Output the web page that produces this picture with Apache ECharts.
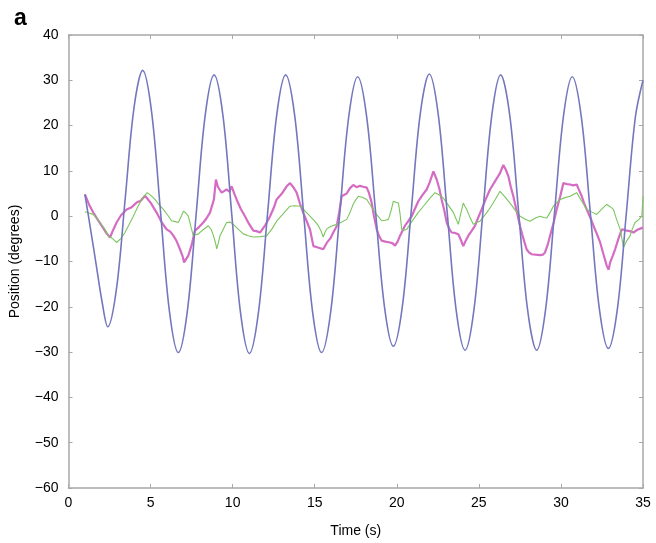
<!DOCTYPE html>
<html><head><meta charset="utf-8">
<script src="https://cdn.jsdelivr.net/npm/echarts@6/dist/echarts.min.js"></script>
<style>html,body{margin:0;padding:0;background:#fff}#c{width:656px;height:543px}</style>
</head><body><div id="c"></div>
<script>
var xTicks = [0, 5, 10, 15, 20, 25, 30, 35];
var yTicks = [-60, -50, -40, -30, -20, -10, 0, 10, 20, 30, 40];

var blueT = [1.0,1.35,1.7,2.05,2.39,2.92,3.455,3.99,4.52,5.06,5.605,6.15,6.69,7.235,7.78,8.325,8.87,9.41,9.945,10.48,11.02,11.57,12.125,12.68,13.23,13.78,14.325,14.87,15.42,15.97,16.52,17.07,17.62,18.16,18.705,19.25,19.79,20.34,20.885,21.43,21.98,22.525,23.07,23.615,24.16,24.70,25.245,25.79,26.33,26.88,27.425,27.97,28.52,29.06,29.605,30.15,30.69,31.24,31.79,32.34,32.89,33.44,33.985,34.53,35.0];
var blueV = [4.8,-3,-11,-19,-24.4,-16.1,3.9,23.9,32.2,23.1,1.05,-21.0,-30.1,-21.1,0.55,22.2,31.2,22.2,0.45,-21.3,-30.3,-21.3,0.45,22.2,31.2,22.2,0.55,-21.1,-30.1,-21.2,0.35,21.9,30.8,22.1,1.05,-20.0,-28.7,-19.9,1.35,22.6,31.4,22.5,0.9,-20.7,-29.6,-20.7,0.8,22.3,31.2,22.3,0.8,-20.7,-29.6,-20.75,0.6,21.95,30.8,22.0,0.8,-20.4,-29.2,-20.45,0.65,21.75,30.0];

var pinkT = [1.0,1.25,1.51,1.75,2.02,2.3,2.53,2.7,2.93,3.2,3.54,3.85,4.15,4.4,4.66,5.0,5.37,5.7,5.98,6.2,6.39,6.6,6.79,6.95,7.04,7.3,7.5,7.7,7.95,8.21,8.4,8.62,8.86,8.98,9.1,9.33,9.5,9.63,9.8,9.94,10.1,10.24,10.5,10.75,11.0,11.26,11.45,11.67,12.0,12.28,12.5,12.68,13.0,13.29,13.5,13.7,13.9,14.1,14.3,14.5,14.71,14.92,15.2,15.52,15.73,15.95,16.13,16.34,16.5,16.64,16.95,17.15,17.35,17.55,17.76,17.95,18.17,18.3,18.47,18.6,18.78,18.9,19.08,19.3,19.59,19.75,19.89,20.05,20.2,20.5,20.7,20.91,21.1,21.31,21.55,21.82,22.0,22.23,22.43,22.6,22.73,22.9,23.04,23.2,23.34,23.55,23.75,23.9,24.05,24.2,24.36,24.55,24.77,24.95,25.17,25.4,25.68,26.0,26.29,26.49,26.65,26.8,26.95,27.1,27.3,27.51,27.7,27.91,28.05,28.22,28.45,28.73,28.9,29.03,29.2,29.34,29.55,29.74,29.95,30.15,30.35,30.56,30.75,30.96,31.1,31.27,31.4,31.57,31.8,31.98,32.2,32.39,32.6,32.79,32.9,33.0,33.15,33.3,33.5,33.71,33.85,34.01,34.2,34.42,34.65,34.8,35.0];
var pinkV = [4.8,2.6,0.8,-0.6,-2.1,-3.7,-4.7,-3.2,-1.4,0.2,1.5,2.0,3.0,3.4,4.5,3.0,0.8,-1.5,-2.9,-3.4,-4.3,-5.6,-7.3,-8.8,-10.2,-8.7,-6.4,-3.2,-2.4,-1.4,-0.5,0.8,3.7,8.1,6.5,5.2,5.6,5.9,5.4,6.6,5.0,3.7,1.6,0,-1.7,-3.2,-3.3,-3.6,-1.9,0,1.8,3.7,5.0,6.6,7.3,6.4,5.2,2.8,0.8,-1.0,-2.9,-6.6,-6.9,-7.3,-5.9,-4.9,-3.6,-2.2,1.0,4.4,5.0,6.2,6.9,6.4,6.7,6.5,6.3,5.2,3.0,0.2,-2.9,-4.2,-5.4,-5.6,-5.8,-6.0,-6.5,-5.6,-4.3,-2.1,-1.1,0,1.6,3.3,4.6,5.9,7.4,9.9,8.1,6.0,3.7,1.2,-1.4,-2.8,-3.6,-3.7,-4.0,-5.2,-6.6,-5.4,-4.3,-3.3,-2.1,-0.4,1.5,3.6,5.9,7.8,9.5,11.3,10.2,8.8,6.4,4.4,1.2,-2.2,-4.8,-7.3,-8.0,-8.4,-8.5,-8.6,-8.5,-8.0,-6.2,-4.3,-1.5,1.5,4.3,7.3,7.1,7.0,6.8,7.0,5.8,4.4,3.0,1.5,-0.4,-2.1,-4.0,-5.8,-8.5,-10.9,-11.8,-10.2,-8.8,-7.3,-5.0,-2.9,-3.0,-3.2,-3.3,-3.6,-3.0,-2.8,-2.5];

var greenT = [1.0,1.25,1.51,1.7,1.92,2.2,2.43,2.7,2.93,3.2,3.44,3.7,3.95,4.2,4.46,4.65,4.8,5.05,5.27,5.5,5.78,6.05,6.28,6.5,6.69,6.85,7.0,7.15,7.3,7.45,7.6,7.75,7.91,8.2,8.52,8.7,8.83,8.95,9.03,9.13,9.23,9.45,9.63,9.85,10.04,10.35,10.65,10.95,11.26,11.7,12.08,12.4,12.68,13.1,13.49,13.8,14.1,14.4,14.71,15.0,15.22,15.4,15.52,15.62,15.73,16.0,16.34,16.65,16.95,17.15,17.35,17.5,17.66,17.9,18.17,18.4,18.67,18.9,19.08,19.3,19.49,19.65,19.79,19.95,20.1,20.2,20.3,20.45,20.61,20.8,21.01,21.3,21.62,22.0,22.33,22.6,22.84,23.15,23.45,23.6,23.75,23.9,24.05,24.15,24.26,24.45,24.66,24.85,25.07,25.4,25.68,26.0,26.29,26.6,26.9,27.2,27.51,27.8,28.12,28.45,28.73,28.95,29.14,29.35,29.54,29.75,29.95,30.25,30.56,30.75,30.96,31.25,31.57,31.9,32.18,32.5,32.79,33.0,33.2,33.4,33.61,33.72,33.81,34.0,34.22,34.35,34.52,34.75,34.93,35.0];
var greenV = [1.0,0.7,0.4,-0.3,-1.4,-2.8,-4.3,-5.0,-5.8,-4.9,-3.6,-1.8,0,1.9,3.7,4.6,5.2,4.5,3.7,2.6,1.5,0.2,-1.0,-1.2,-1.4,-0.2,1.1,0.7,0,-2.2,-4.3,-4.1,-3.9,-3.0,-2.1,-3.0,-4.3,-5.8,-7.2,-5.9,-4.3,-2.7,-1.4,-1.3,-1.8,-2.9,-3.9,-4.3,-4.6,-4.5,-4.3,-2.8,-1.1,0.6,2.2,2.3,2.2,1.2,0,-1.1,-2.1,-3.4,-4.6,-3.6,-2.8,-2.2,-1.8,-1.3,-0.7,0.8,2.7,3.6,4.4,4.2,3.7,2.4,0.8,-0.2,-1.0,-0.9,-0.7,1.2,3.3,3.1,2.9,0.5,-2.9,-3.1,-2.9,-1.8,-0.7,0.8,2.2,3.9,5.2,4.7,4.0,2.4,0.8,-0.5,-1.8,0.6,2.9,2.2,1.5,-0.2,-1.8,-1.4,-1.1,0.4,1.8,3.7,5.5,4.2,2.9,1.4,0,-0.6,-1.1,-0.4,0,-0.3,-0.4,0.9,2.2,3.0,3.7,4.1,4.4,4.8,5.2,3.4,1.5,0.9,0.4,1.6,2.6,2.1,1.5,-0.8,-2.9,-5.0,-6.9,-5.5,-4.3,-2.8,-1.4,-0.7,0,4.4];

function pairs(t, v) { var out = []; for (var i = 0; i < t.length; i++) out.push([t[i], v[i]]); return out; }
function minus(v) { return String(v).replace('-', '\u2212'); }

var axisColor = '#a8a8a8';
var font = 'Liberation Sans, Arial, Helvetica, sans-serif';

var chart = echarts.init(document.getElementById('c'), null, { renderer: 'canvas' });
chart.setOption({
  animation: false,
  backgroundColor: '#ffffff',
  title: { text: 'a', left: 9, top: 2, textStyle: { fontSize: 23, fontWeight: 'bold', color: '#000', fontFamily: font } },
  grid: { left: 68.5, right: 13, top: 35, bottom: 53 },
  xAxis: [{
    type: 'value', min: xTicks[0], max: xTicks[xTicks.length - 1], interval: 5, position: 'bottom',
    name: 'Time (s)', nameLocation: 'middle', nameGap: 36,
    nameTextStyle: { fontSize: 14, color: '#000', fontFamily: font },
    axisLine: { onZero: false, lineStyle: { color: axisColor, width: 1.5 } },
    axisTick: { inside: true, length: 4, lineStyle: { color: axisColor } },
    axisLabel: { fontSize: 14, color: '#000', fontFamily: font, margin: 8 },
    splitLine: { show: false }
  }, {
    type: 'value', min: xTicks[0], max: xTicks[xTicks.length - 1], interval: 5, position: 'top',
    axisLine: { onZero: false, lineStyle: { color: axisColor, width: 1.5 } },
    axisTick: { inside: true, length: 4, lineStyle: { color: axisColor } },
    axisLabel: { show: false }, splitLine: { show: false }
  }],
  yAxis: [{
    type: 'value', min: yTicks[0], max: yTicks[yTicks.length - 1], interval: 10, position: 'left',
    name: 'Position (degrees)', nameLocation: 'middle', nameGap: 46, nameRotate: 90,
    nameTextStyle: { fontSize: 14, color: '#000', fontFamily: font },
    axisLine: { show: true, onZero: false, lineStyle: { color: axisColor, width: 1.5 } },
    axisTick: { show: true, inside: true, length: 4, lineStyle: { color: axisColor } },
    axisLabel: { fontSize: 14, color: '#000', fontFamily: font, margin: 10, formatter: minus },
    splitLine: { show: false }
  }, {
    type: 'value', min: yTicks[0], max: yTicks[yTicks.length - 1], interval: 10, position: 'right',
    axisLine: { show: true, onZero: false, lineStyle: { color: axisColor, width: 1.5 } },
    axisTick: { show: true, inside: true, length: 4, lineStyle: { color: axisColor } },
    axisLabel: { show: false }, splitLine: { show: false }
  }],
  series: [{
    type: 'line', name: 'pink', data: pairs(pinkT, pinkV), showSymbol: false, smooth: false,
    lineStyle: { color: '#d46cc4', width: 2.2 }, z: 2
  }, {
    type: 'line', name: 'green', data: pairs(greenT, greenV), showSymbol: false, smooth: false,
    lineStyle: { color: '#7cc55e', width: 1.1 }, z: 3
  }, {
    type: 'line', name: 'blue', data: pairs(blueT, blueV), showSymbol: false, smooth: 0.35,
    lineStyle: { color: '#7377bd', width: 1.6 }, z: 4
  }]
});
</script></body></html>
